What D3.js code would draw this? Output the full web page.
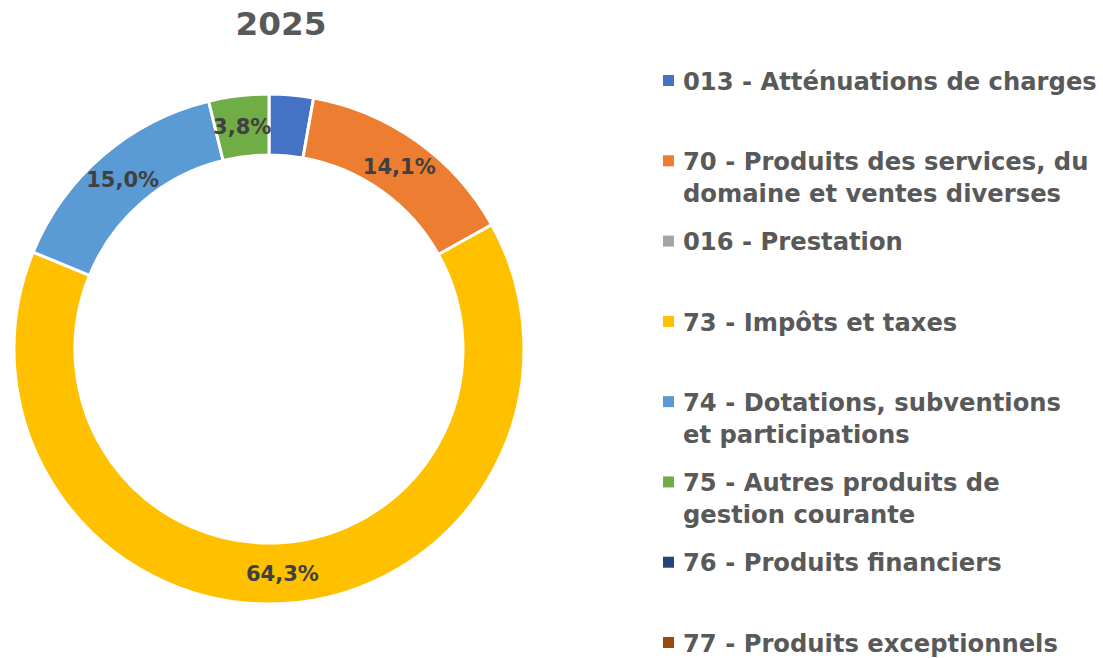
<!DOCTYPE html>
<html>
<head>
<meta charset="utf-8">
<script src="https://cdn.jsdelivr.net/npm/d3@7"></script>
<style>
  body { margin: 0; background: #fff; }
  svg { display: block; }
  text { font-family: "DejaVu Sans", sans-serif; font-weight: bold; }
</style>
</head>
<body>
<svg id="chart" width="1103" height="658"></svg>
<script>
"use strict";

// Chart data
const title = "2025";
const categories = [
    ["013 - Atténuations de charges"],
    ["70 - Produits des services, du", "domaine et ventes diverses"],
    ["016 - Prestation"],
    ["73 - Impôts et taxes"],
    ["74 - Dotations, subventions", "et participations"],
    ["75 - Autres produits de", "gestion courante"],
    ["76 - Produits financiers"],
    ["77 - Produits exceptionnels"]
];
const shares = [2.8, 14.1, 0, 64.3, 15.0, 3.8, 0, 0];
const showLabel = [false, true, false, true, true, true, false, false];
const colors = ["#4472C4", "#ED7D31", "#A5A5A5", "#FFC000", "#5B9BD5", "#70AD47", "#264478", "#9E480E"];

const svg = d3.select("#chart");
const cx = 269, cy = 349;
const outerR = 255, innerR = 194;

/**
 * Shrink or grow a text element's font size so it spans the given width.
 */
function fitWidth(sel, width) {
    const w = sel.node().getComputedTextLength();
    const size = parseFloat(sel.attr("font-size"));
    sel.attr("font-size", size * width / w);
    return size * width / w;
}

// Title
const t = svg.append("text")
    .attr("x", 281).attr("y", 35)
    .attr("text-anchor", "middle")
    .attr("font-size", 34)
    .attr("fill", "#595959")
    .text(title);
fitWidth(t, 91);

// Donut
const pie = d3.pie().sort(null).value(d => d.value);
const arc = d3.arc().innerRadius(innerR).outerRadius(outerR);
const data = shares.map((v, i) => ({ value: v, i: i }));
const arcs = pie(data);

const g = svg.append("g").attr("transform", `translate(${cx},${cy})`);
g.selectAll("path")
    .data(arcs.filter(d => d.data.value > 0))
    .enter().append("path")
    .attr("d", arc)
    .attr("fill", d => colors[d.data.i])
    .attr("stroke", "#fff")
    .attr("stroke-width", 3);

const fmt = v => v.toFixed(1).replace(".", ",") + "%";
const probe = g.append("text").attr("font-size", 20).text("64,3%");
const labelSize = fitWidth(probe, 73);
probe.remove();

g.selectAll("text.lbl")
    .data(arcs.filter(d => showLabel[d.data.i]))
    .enter().append("text")
    .attr("class", "lbl")
    .attr("transform", d => `translate(${arc.centroid(d)})`)
    .attr("text-anchor", "middle")
    .attr("dy", "0.38em")
    .attr("font-size", labelSize)
    .attr("fill", "#404040")
    .text(d => fmt(d.data.value));

// Legend
const probe2 = svg.append("text").attr("font-size", 24).text(categories[0][0]);
const legSize = fitWidth(probe2, 414);
probe2.remove();

const legY = d3.scaleLinear().domain([0, categories.length - 1]).range([81, 643]);
const leg = svg.append("g");
categories.forEach((lines, i) => {
    const y = legY(i);
    leg.append("rect")
        .attr("x", 663).attr("y", y - 6)
        .attr("width", 11).attr("height", 11)
        .attr("fill", colors[i]);
    const tx = leg.append("text")
        .attr("x", 683).attr("y", y)
        .attr("font-size", legSize)
        .attr("fill", "#595959");
    lines.forEach((line, k) => {
        tx.append("tspan")
            .attr("x", 683)
            .attr("dy", k === 0 ? "0.36em" : 32)
            .text(line);
    });
});
</script>
</body>
</html>
